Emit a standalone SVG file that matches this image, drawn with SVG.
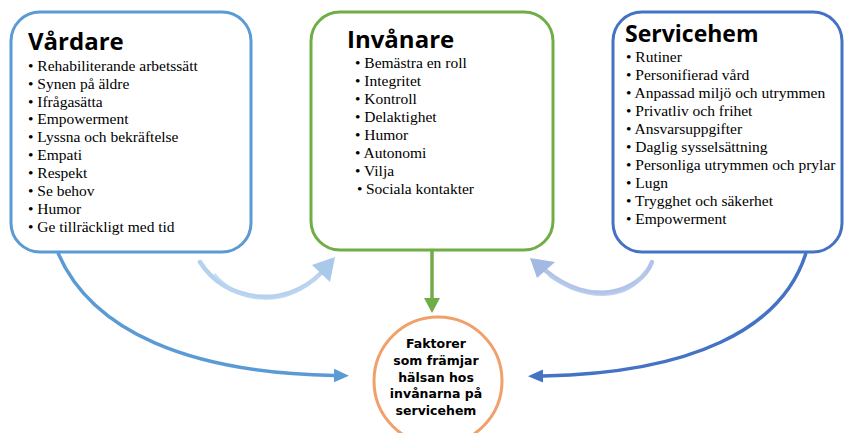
<svg xmlns="http://www.w3.org/2000/svg" width="847" height="433" viewBox="0 0 847 433">
<defs>
<style>
.box{fill:#fff;stroke-width:3}
.title{font-family:"Open Sans","DejaVu Sans",sans-serif;font-weight:bold;font-size:24px;fill:#000}
.li{font-family:"Liberation Serif","Times New Roman",serif;font-size:15.5px;fill:#000}
.ct{font-family:"DejaVu Sans","Open Sans",sans-serif;font-weight:bold;font-size:12.5px;fill:#000;text-anchor:middle}
.con{fill:none;stroke-width:3.5}
.sketch{fill:none;stroke-linecap:round}
</style>
<marker id="ahL" markerUnits="userSpaceOnUse" viewBox="0 0 16 16" markerWidth="16" markerHeight="16" refX="0" refY="8" orient="auto"><path d="M0,1.3 L15,8 L0,14.7 z" fill="#5b9bd5"/></marker>
<marker id="ahR" markerUnits="userSpaceOnUse" viewBox="0 0 16 16" markerWidth="16" markerHeight="16" refX="0" refY="8" orient="auto"><path d="M0,1.5 L15,8 L0,14.5 z" fill="#4472c4"/></marker>
<marker id="ahG" markerUnits="userSpaceOnUse" viewBox="0 0 18 18" markerWidth="18" markerHeight="18" refX="0" refY="9" orient="auto"><path d="M0,1 L15,9 L0,17 z" fill="#70ad47"/></marker>
</defs>
<rect width="847" height="433" fill="#fff"/>

<g id="connectors">
<path class="con" d="M58,253 C92,332 190,373 334,375.5" stroke="#5b9bd5" marker-end="url(#ahL)"/>
<path class="con" d="M806,253 C782,330 690,373 543,376" stroke="#4472c4" marker-end="url(#ahR)"/>
<path class="con" d="M432,251 L432,298" stroke="#70ad47" marker-end="url(#ahG)"/>
<g id="sketch-left">
<path class="sketch" d="M200,262 C225,302 285,310 321,273" stroke="#a9c9ea" stroke-width="4.5" opacity="0.85"/>
<path class="sketch" d="M215,275 C240,304 285,308 318,276" stroke="#bcd6ef" stroke-width="3" opacity="0.8"/>
<polygon points="312,265 335,257 330,282" fill="#a9c9ea"/>
</g>
<g id="sketch-right">
<path class="sketch" d="M652,262 C640,293 590,308 546,271" stroke="#a3b9e4" stroke-width="4.5" opacity="0.85"/>
<path class="sketch" d="M645,272 C630,298 590,304 550,276" stroke="#b8c9ec" stroke-width="3" opacity="0.8"/>
<polygon points="530,258 555,262 537,278" fill="#a3b9e4"/>
</g>
</g>

<g id="vardare">
<rect class="box" x="11" y="12" width="240" height="240" rx="29" stroke="#5b9bd5"/>
<text class="title" x="28" y="50">Vårdare</text>
<text class="li" x="28" y="70.7">• Rehabiliterande arbetssätt</text>
<text class="li" x="28" y="88.6">• Synen på äldre</text>
<text class="li" x="28" y="106.5">• Ifrågasätta</text>
<text class="li" x="28" y="124.4">• Empowerment</text>
<text class="li" x="28" y="142.3">• Lyssna och bekräftelse</text>
<text class="li" x="28" y="160.2">• Empati</text>
<text class="li" x="28" y="178.1">• Respekt</text>
<text class="li" x="28" y="196">• Se behov</text>
<text class="li" x="28" y="213.9">• Humor</text>
<text class="li" x="28" y="231.8">• Ge tillräckligt med tid</text>
</g>

<g id="invanare">
<rect class="box" x="311" y="12" width="242" height="238" rx="29" stroke="#70ad47"/>
<text class="title" x="347" y="48">Invånare</text>
<text class="li" x="355" y="67.7">• Bemästra en roll</text>
<text class="li" x="355" y="85.7">• Integritet</text>
<text class="li" x="355" y="103.7">• Kontroll</text>
<text class="li" x="355" y="121.7">• Delaktighet</text>
<text class="li" x="355" y="139.7">• Humor</text>
<text class="li" x="355" y="157.7">• Autonomi</text>
<text class="li" x="355" y="175.7">• Vilja</text>
<text class="li" x="357" y="193.7">•<tspan x="366">Sociala kontakter</tspan></text>
</g>

<g id="servicehem">
<rect class="box" x="613" y="12" width="229" height="240" rx="29" stroke="#4472c4"/>
<text class="title" x="625" y="42" style="font-size:23px">Servicehem</text>
<text class="li" x="626" y="62.3">• Rutiner</text>
<text class="li" x="626" y="80.3">• Personifierad vård</text>
<text class="li" x="626" y="98.3">• Anpassad miljö och utrymmen</text>
<text class="li" x="626" y="116.3">• Privatliv och frihet</text>
<text class="li" x="626" y="134.3">• Ansvarsuppgifter</text>
<text class="li" x="626" y="152.3">• Daglig sysselsättning</text>
<text class="li" x="626" y="170.3">• Personliga utrymmen och prylar</text>
<text class="li" x="626" y="188.3">• Lugn</text>
<text class="li" x="626" y="206.3">• Trygghet och säkerhet</text>
<text class="li" x="626" y="224.3">• Empowerment</text>
</g>

<g id="faktorer">
<circle cx="438" cy="381" r="64" fill="#fff" stroke="#f0a068" stroke-width="3"/>
<text class="ct" x="436" y="348">Faktorer</text>
<text class="ct" x="436" y="364.8">som främjar</text>
<text class="ct" x="436" y="381.6">hälsan hos</text>
<text class="ct" x="436" y="398.4">invånarna på</text>
<text class="ct" x="436" y="415.2">servicehem</text>
</g>
</svg>
